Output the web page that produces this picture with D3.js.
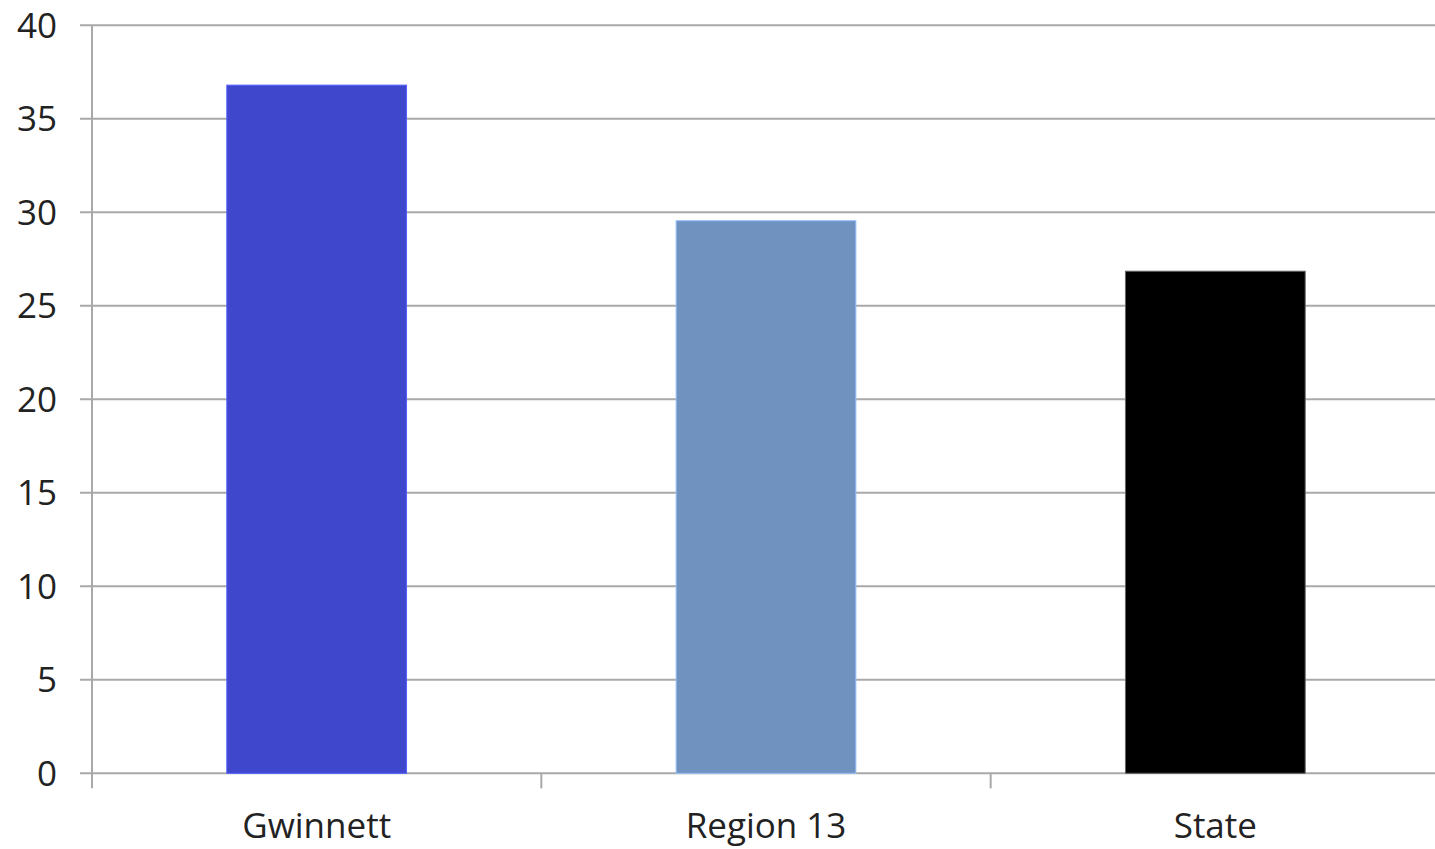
<!DOCTYPE html>
<html><head><meta charset="utf-8">
<script src="https://cdn.jsdelivr.net/npm/d3@7"></script>
<style>html,body{margin:0;padding:0;background:#fff;overflow:hidden}</style>
</head><body>
<svg id="c" width="1435" height="849"></svg>
<script>
const categories = ["Gwinnett", "Region 13", "State"];
const values = [36.8, 29.55, 26.85];
const colors = ["#3F48CC", "#7092BE", "#000000"];
const yTicks = [0, 5, 10, 15, 20, 25, 30, 35, 40];

const svg = d3.select("#c");
const mLeft = 92, mRight = 1440, mTop = 25.3, mBottom = 773.3;
const x = d3.scaleBand().domain(categories).range([mLeft, mRight]).paddingInner(0.6).paddingOuter(0.3);
const y = d3.scaleLinear().domain([0, 40]).range([mBottom, mTop]);
const font = "'Open Sans', Lato, sans-serif";

// gridlines
svg.append("g").selectAll("line").data(yTicks).join("line")
  .attr("x1", mLeft - 12).attr("x2", mRight)
  .attr("y1", d => y(d)).attr("y2", d => y(d))
  .attr("stroke", "#a9a9a9").attr("stroke-width", 2);

// y axis line
svg.append("line").attr("x1", mLeft).attr("x2", mLeft).attr("y1", mTop).attr("y2", mBottom + 15)
  .attr("stroke", "#a9a9a9").attr("stroke-width", 2);

// x ticks at band boundaries
const bounds = [1, 2].map(i => mLeft + i * x.step());
svg.append("g").selectAll("line").data(bounds).join("line")
  .attr("x1", d => d).attr("x2", d => d).attr("y1", mBottom).attr("y2", mBottom + 15)
  .attr("stroke", "#a9a9a9").attr("stroke-width", 2);

// bars
svg.append("g").selectAll("rect").data(categories).join("rect")
  .attr("x", d => x(d)).attr("width", x.bandwidth())
  .attr("y", (d, i) => y(values[i])).attr("height", (d, i) => mBottom - y(values[i]))
  .attr("fill", (d, i) => colors[i])
  .attr("stroke", (d, i) => i === 2 ? "#666" : d3.color(colors[i]).brighter(0.8)).attr("stroke-width", 1);

// y labels
svg.append("g").selectAll("text").data(yTicks).join("text")
  .attr("x", 57).attr("y", d => y(d)).attr("dy", "0.36em")
  .attr("text-anchor", "end").attr("font-family", font).attr("font-size", 35)
  .attr("fill", "#222").text(d => d);

// x labels
svg.append("g").selectAll("text").data(categories).join("text")
  .attr("x", d => x(d) + x.bandwidth() / 2).attr("y", 838)
  .attr("text-anchor", "middle").attr("font-family", font).attr("font-size", 35)
  .attr("fill", "#222").text(d => d);
</script>
</body></html>
